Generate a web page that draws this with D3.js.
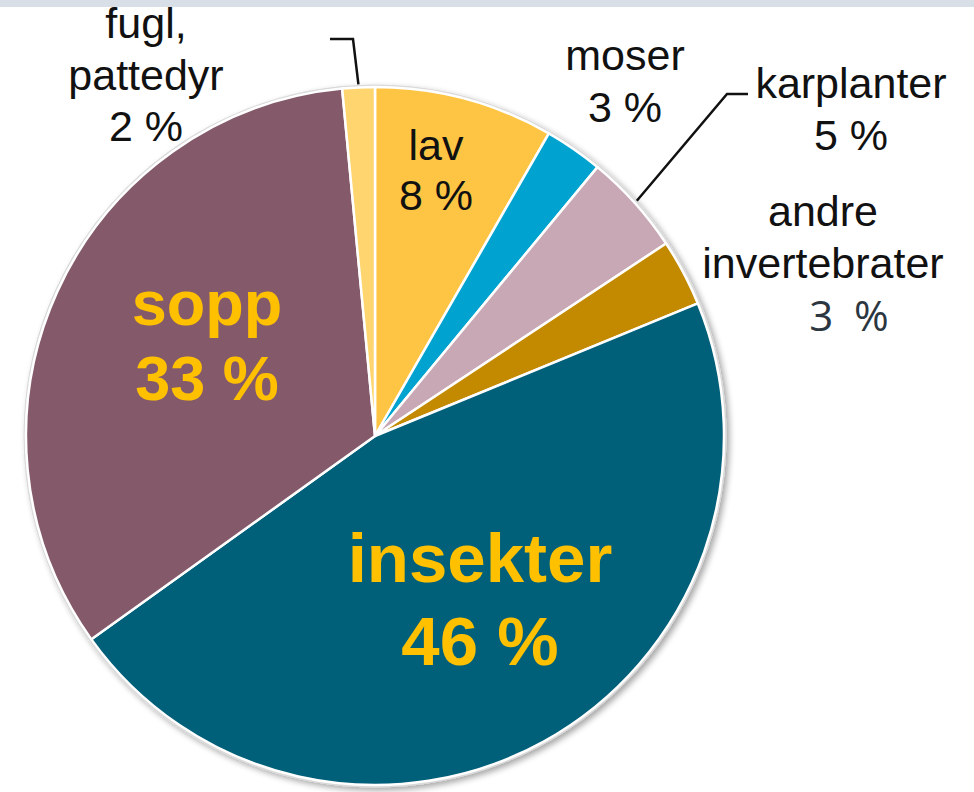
<!DOCTYPE html>
<html>
<head>
<meta charset="utf-8">
<script src="https://cdn.jsdelivr.net/npm/d3@7"></script>
<style>
  body { margin:0; background:#fff; }
  svg { display:block; }
</style>
</head>
<body>
<div id="chart"></div>
<script>
// data, clockwise from 12 o'clock
var categories = ["lav", "moser", "karplanter", "andre invertebrater", "insekter", "sopp", "fugl, pattedyr"];
var shares = [8.3, 2.7, 4.7, 3.1, 46.3, 33.4, 1.5];
var shareLabels = ["8 %", "3 %", "5 %", "3 %", "46 %", "33 %", "2 %"];
var nameLines = [["lav"], ["moser"], ["karplanter"], ["andre", "invertebrater"], ["insekter"], ["sopp"], ["fugl,", "pattedyr"]];

var colors = {
  "lav": "#fec544",
  "moser": "#00a3cf",
  "karplanter": "#c8a8b5",
  "andre invertebrater": "#c38a00",
  "insekter": "#005f79",
  "sopp": "#845a6a",
  "fugl, pattedyr": "#fed56f"
};

// label layout: anchor x, first baseline, line step, font
var layout = {
  "lav":                 {x:436, y:160, step:50, size:43, weight:"normal", fill:"#111"},
  "moser":               {x:625, y:70,  step:52, size:43, weight:"normal", fill:"#111"},
  "karplanter":          {x:851, y:98,  step:52, size:43, weight:"normal", fill:"#111"},
  "andre invertebrater": {x:823, y:226, step:52, size:43, weight:"normal", fill:"#111"},
  "insekter":            {x:480, y:582, step:83, size:69, weight:"bold",   fill:"#ffc000"},
  "sopp":                {x:207, y:325, step:75, size:63, weight:"bold",   fill:"#ffc000"},
  "fugl, pattedyr":      {x:146, y:38,  step:51.5, size:43, weight:"normal", fill:"#111"}
};

var width = 974, height = 792;
var cx = 375, cy = 436, radius = 349;

var svg = d3.select("#chart").append("svg")
  .attr("width", width)
  .attr("height", height);

svg.append("rect")
  .attr("x", 0).attr("y", 0)
  .attr("width", width).attr("height", 7)
  .attr("fill", "#d8dfe7");

var defs = svg.append("defs");
var shadow = defs.append("filter").attr("id", "shadow")
  .attr("x", "-10%").attr("y", "-10%").attr("width", "120%").attr("height", "120%");
shadow.append("feGaussianBlur").attr("in", "SourceAlpha").attr("stdDeviation", 3);
shadow.append("feOffset").attr("dx", 3).attr("dy", 3).attr("result", "off");
shadow.append("feComponentTransfer").append("feFuncA").attr("type", "linear").attr("slope", 0.35);
var merge = shadow.append("feMerge");
merge.append("feMergeNode");
merge.append("feMergeNode").attr("in", "SourceGraphic");

var data = categories.map(function(c, i) {
  return {name: c, value: shares[i], label: shareLabels[i], lines: nameLines[i]};
});

var pie = d3.pie().sort(null).value(d => d.value);
var arcs = pie(data);
var arc = d3.arc().innerRadius(0).outerRadius(radius);

var g = svg.append("g").attr("transform", "translate(" + cx + "," + cy + ")");

// outer rim with shadow
g.append("circle")
  .attr("r", radius + 1)
  .attr("fill", "#fff")
  .attr("stroke", "#d9d9d9")
  .attr("stroke-width", 3)
  .attr("filter", "url(#shadow)");

g.selectAll("path.slice")
  .data(arcs)
  .enter()
  .append("path")
  .attr("class", "slice")
  .attr("d", arc)
  .attr("fill", d => colors[d.data.name])
  .attr("stroke", "#fff")
  .attr("stroke-width", 2.5)
  .attr("stroke-linejoin", "round");

// leader lines for the two small slices whose labels sit outside
var leaderEnds = {
  "karplanter": [[727, 94], [748, 94]],
  "fugl, pattedyr": [[353, 39], [330, 39]]
};
arcs.forEach(function(d) {
  var ends = leaderEnds[d.data.name];
  if (!ends) return;
  var mid = (d.startAngle + d.endAngle) / 2;
  var start = [cx + (radius + 3) * Math.sin(mid), cy - (radius + 3) * Math.cos(mid)];
  svg.append("path")
    .attr("d", d3.line()([start].concat(ends)))
    .attr("fill", "none")
    .attr("stroke", "#111")
    .attr("stroke-width", 2.5);
});

// labels
arcs.forEach(function(d) {
  var L = layout[d.data.name];
  var t = svg.append("text")
    .attr("text-anchor", "middle")
    .attr("font-family", "'Liberation Sans', Arial, sans-serif")
    .attr("font-size", L.size)
    .attr("font-weight", L.weight)
    .attr("fill", L.fill);
  d.data.lines.forEach(function(line, i) {
    t.append("tspan").attr("x", L.x).attr("y", L.y + i * L.step).text(line);
  });
  var pctY = L.y + d.data.lines.length * L.step;
  if (d.data.name === "andre invertebrater") {
    // this percentage is set in a different face in the original
    svg.append("text")
      .attr("x", 849).attr("y", 331)
      .attr("text-anchor", "middle")
      .attr("font-family", "'Open Sans', 'DejaVu Sans', sans-serif")
      .attr("font-size", 42)
      .attr("word-spacing", 10)
      .attr("fill", "#2b3641")
      .text(d.data.label);
  } else {
    t.append("tspan").attr("x", L.x).attr("y", pctY).text(d.data.label);
  }
});
</script>
</body>
</html>
